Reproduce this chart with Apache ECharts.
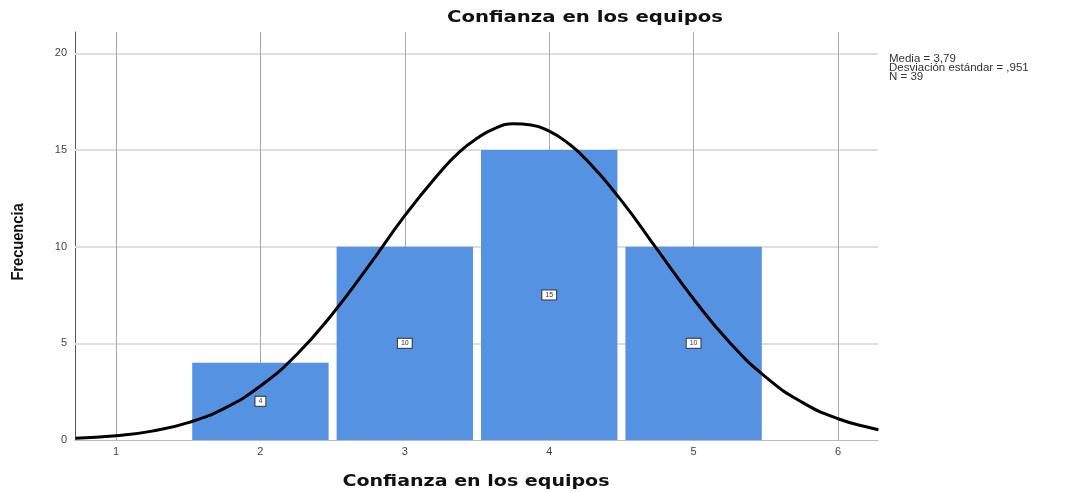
<!DOCTYPE html>
<html>
<head>
<meta charset="utf-8">
<title>Confianza en los equipos</title>
<script src="https://cdn.jsdelivr.net/npm/echarts@6/dist/echarts.min.js"></script>
<style>
html, body { margin: 0; padding: 0; background: #fff; }
#chart { width: 1075px; height: 492px; }
</style>
</head>
<body>
<div id="chart"></div>
<script>
// valores del histograma
var categorias = [2, 3, 4, 5];
var frecuencias = [4, 10, 15, 10];
// curva normal (x, frecuencia)
var curvaX = [0.72, 1, 1.25, 1.5, 1.75, 2, 2.25, 2.5, 2.75, 3, 3.25, 3.375, 3.5, 3.625, 3.75, 3.875, 4, 4.125, 4.25, 4.5, 4.75, 5, 5.25, 5.5, 5.75, 6, 6.25, 6.28];
var curvaY = [0.09, 0.22, 0.46, 0.9, 1.64, 2.79, 4.41, 6.53, 9.0, 11.6, 13.9, 14.88, 15.6, 16.12, 16.35, 16.29, 15.97, 15.38, 14.55, 12.38, 9.83, 7.29, 5.04, 3.25, 1.96, 1.1, 0.58, 0.53];
var ticksX = [1, 2, 3, 4, 5, 6];
var ticksY = [5, 10, 15, 20];
var resumen = ['Media = 3,79', 'Desviación estándar = ,951', 'N = 39'];

var myChart = echarts.init(document.getElementById('chart'));

var barras = categorias.map(function (c, i) { return [c, frecuencias[i]]; });
var curva = curvaX.map(function (x, i) { return [x, curvaY[i]]; });

var option = {
    animation: false,
    grid: { left: 75, right: 197, top: 32, bottom: 52 },
    xAxis: {
        type: 'value',
        min: 0.716,
        max: 6.277,
        axisLine: { lineStyle: { color: '#bbb', width: 1 } },
        axisTick: { show: false },
        splitLine: { show: false },
        axisLabel: { show: false }
    },
    yAxis: {
        type: 'value',
        min: 0,
        max: 21.1,
        interval: 5,
        axisLine: { show: true, lineStyle: { color: '#555', width: 1 } },
        axisTick: { show: false },
        splitLine: { show: false },
        axisLabel: {
            color: '#444', fontSize: 11, fontFamily: 'Liberation Sans', margin: 8,
            formatter: function (v) { return (v === 0 || ticksY.indexOf(v) >= 0) ? v : ''; }
        }
    },
    graphic: [{
        type: 'text',
        x: 447,
        y: 10,
        scaleX: 1.23,
        style: {
            text: 'Confianza en los equipos',
            fill: '#111',
            font: 'bold 16px "DejaVu Sans"'
        }
    }, {
        type: 'text',
        x: 476,
        y: 474,
        scaleX: 1.19,
        style: {
            text: 'Confianza en los equipos',
            align: 'center',
            fill: '#111',
            font: 'bold 16px "DejaVu Sans"'
        }
    }, {
        type: 'text',
        x: 10,
        y: 242,
        rotation: Math.PI / 2,
        scaleX: 0.86,
        style: {
            text: 'Frecuencia',
            align: 'center',
            verticalAlign: 'top',
            fill: '#111',
            font: 'bold 17px "Liberation Sans"'
        }
    }, {
        type: 'text',
        x: 889,
        y: 55,
        scaleX: 1.15,
        style: {
            text: resumen.join('\n'),
            fill: '#333',
            font: '10px "Liberation Sans"',
            lineHeight: 9
        }
    }],
    series: [
        {
            // lineas de cuadricula y marcas del eje x
            type: 'line',
            data: [],
            silent: true,
            z: 1,
            markLine: {
                silent: true,
                z: 1,
                symbol: 'none',
                animation: false,
                data: ticksY.map(function (v) {
                    return { yAxis: v, label: { show: false }, lineStyle: { color: '#dedede', width: 2, type: 'solid' } };
                }).concat(ticksX.map(function (v) {
                    return {
                        xAxis: v,
                        label: { show: true, position: 'start', formatter: String(v), color: '#444', fontSize: 11, fontFamily: 'Liberation Sans', distance: 6 },
                        lineStyle: { color: '#a8a8a8', width: 1, type: 'solid' }
                    };
                }))
            }
        },
        {
            type: 'custom',
            z: 2,
            data: barras,
            renderItem: function (params, api) {
                var x = api.value(0), y = api.value(1);
                var p0 = api.coord([x - 0.5, y]);
                var p1 = api.coord([x + 0.5, 0]);
                var mid = api.coord([x, y / 2]);
                return {
                    type: 'group',
                    children: [{
                        type: 'rect',
                        shape: { x: p0[0] + 4, y: p0[1], width: p1[0] - p0[0] - 8, height: p1[1] - p0[1] },
                        style: { fill: '#5593e2' }
                    }, {
                        type: 'text',
                        z2: 10,
                        x: mid[0],
                        y: mid[1],
                        style: {
                            text: String(y),
                            align: 'center',
                            verticalAlign: 'middle',
                            fill: '#333',
                            font: '7px "Liberation Sans"',
                            backgroundColor: '#fff',
                            borderColor: '#333',
                            borderWidth: 1,
                            padding: [1, 3]
                        }
                    }]
                };
            }
        },
        {
            type: 'line',
            z: 3,
            data: curva,
            smooth: true,
            showSymbol: false,
            lineStyle: { color: '#000', width: 3 }
        }
    ]
};

myChart.setOption(option);
</script>
</body>
</html>
